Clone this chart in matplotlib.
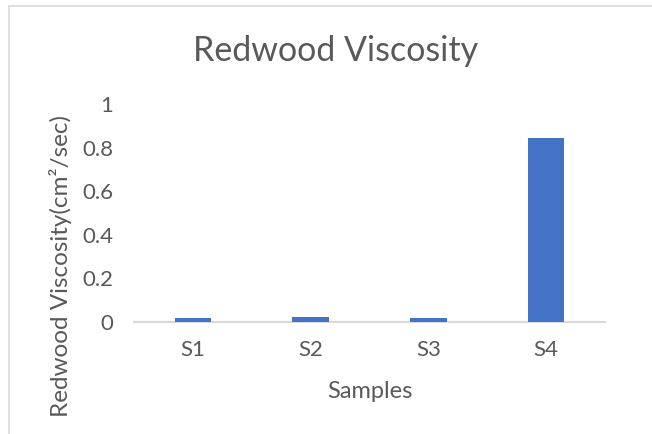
import matplotlib.pyplot as plt
from matplotlib.lines import Line2D

samples = ['S1', 'S2', 'S3', 'S4']
viscosity = [0.018, 0.024, 0.017, 0.845]
y_ticks = [0, 0.2, 0.4, 0.6, 0.8, 1]
y_tick_labels = ['0', '0.2', '0.4', '0.6', '0.8', '1']

plt.rcParams['font.family'] = ['Lato', 'DejaVu Sans']
grey = '#595959'

fig = plt.figure(figsize=(6.52, 4.34), dpi=100)

# chart border (cut off on the right and bottom in the reference)
fig.add_artist(Line2D([9 / 652, 9 / 652], [0, 1 - 6 / 434], color='#d9d9d9', lw=1.2))
fig.add_artist(Line2D([9 / 652, 1], [1 - 6 / 434, 1 - 6 / 434], color='#d9d9d9', lw=1.2))

ax = fig.add_axes([134 / 652, 1 - 322 / 434, 471 / 652, 218 / 434])
x = range(len(samples))
ax.bar(x, viscosity, width=0.31, color='#4472C4', zorder=3)
ax.set_xlim(-0.5, 3.5)
ax.set_ylim(0, 1)
ax.set_yticks(y_ticks)
ax.set_yticklabels(y_tick_labels)
ax.set_xticks(list(x))
ax.set_xticklabels(samples)
ax.tick_params(length=0, labelsize=16, labelcolor=grey)
ax.tick_params(axis='y', pad=15)
ax.tick_params(axis='x', pad=13)
for side in ['top', 'right', 'left']:
    ax.spines[side].set_visible(False)
ax.spines['bottom'].set_color('#d9d9d9')
ax.spines['bottom'].set_linewidth(1.5)

fig.text(336 / 652, 1 - 51 / 434, 'Redwood Viscosity', ha='center', va='center',
         fontsize=24.5, color=grey)
fig.text(61 / 652, 1 - 266 / 434, 'Redwood Viscosity(cm²/sec)', ha='center', va='center',
         rotation=90, fontsize=17.5, color=grey)
fig.text(370 / 652, 1 - 392 / 434, 'Samples', ha='center', va='center',
         fontsize=17, color=grey)

fig.savefig('out.png', dpi=100)
